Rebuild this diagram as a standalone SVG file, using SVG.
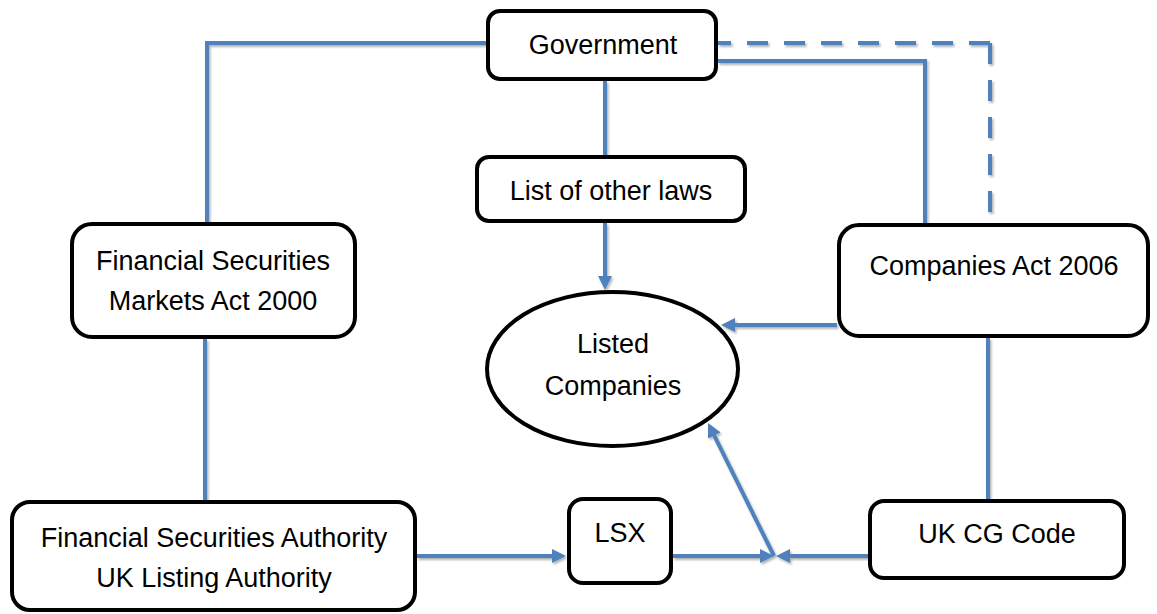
<svg xmlns="http://www.w3.org/2000/svg" width="1157" height="614" viewBox="0 0 1157 614">
<style>
.node{fill:#ffffff;stroke:#000000;stroke-width:4}
.lbl{font-family:"Liberation Sans",Arial,sans-serif;font-size:27px;fill:#000000;text-anchor:middle}
.con{fill:none;stroke:#4F81BD;stroke-width:4}
.dash{stroke-dasharray:21 16}
</style>
<defs>
<marker id="arr" markerUnits="userSpaceOnUse" markerWidth="14" markerHeight="14" refX="10" refY="7" orient="auto">
<path d="M0,0 L14,7 L0,14 z" fill="#4F81BD"/>
</marker>
<filter id="sh" x="-10%" y="-10%" width="120%" height="120%">
<feDropShadow dx="1.5" dy="2" stdDeviation="1.2" flood-color="#000000" flood-opacity="0.3"/>
</filter>
</defs>
<g id="connectors" filter="url(#sh)">
<path class="con" d="M486,43 L207,43 L207,222"/>
<path class="con" d="M205,339 L205,500"/>
<path class="con" d="M605,81 L605,155"/>
<path class="con" d="M718,61 L925,61 L925,223"/>
<path class="con dash" d="M990,43 L718,43"/>
<path class="con dash" d="M990,43 L990,213"/>
<path class="con" d="M988,338 L988,499"/>
<path class="con" d="M605,223 L605,286" marker-end="url(#arr)"/>
<path class="con" d="M837,325 L725,325" marker-end="url(#arr)"/>
<path class="con" d="M417,556 L562,556" marker-end="url(#arr)"/>
<path class="con" d="M673,556 L770,556" marker-end="url(#arr)"/>
<path class="con" d="M868,556 L780,556" marker-end="url(#arr)"/>
<path class="con" d="M774,556 L709.8,426.6" marker-end="url(#arr)"/>
</g>
<g id="government"><rect class="node" x="488" y="11" width="228" height="68" rx="12"/><text class="lbl" x="603" y="54">Government</text></g>
<g id="list-of-other-laws"><rect class="node" x="477" y="157" width="268" height="64" rx="12"/><text class="lbl" x="611" y="200">List of other laws</text></g>
<g id="fsma"><rect class="node" x="72" y="224" width="283" height="113" rx="20"/><text class="lbl" x="213" y="270">Financial Securities</text><text class="lbl" x="213" y="310">Markets Act 2000</text></g>
<g id="companies-act"><rect class="node" x="839" y="225" width="309" height="111" rx="20"/><text class="lbl" x="994" y="275">Companies Act 2006</text></g>
<g id="listed-companies"><ellipse class="node" cx="612.5" cy="369" rx="125.5" ry="77"/><text class="lbl" x="613" y="353">Listed</text><text class="lbl" x="613" y="395">Companies</text></g>
<g id="fsa"><rect class="node" x="12" y="502" width="403" height="108" rx="18"/><text class="lbl" x="214" y="547">Financial Securities Authority</text><text class="lbl" x="214" y="587">UK Listing Authority</text></g>
<g id="lsx"><rect class="node" x="569" y="499" width="102" height="84" rx="14"/><text class="lbl" x="620" y="542">LSX</text></g>
<g id="uk-cg-code"><rect class="node" x="870" y="501" width="254" height="77" rx="14"/><text class="lbl" x="997" y="543">UK CG Code</text></g>
</svg>
